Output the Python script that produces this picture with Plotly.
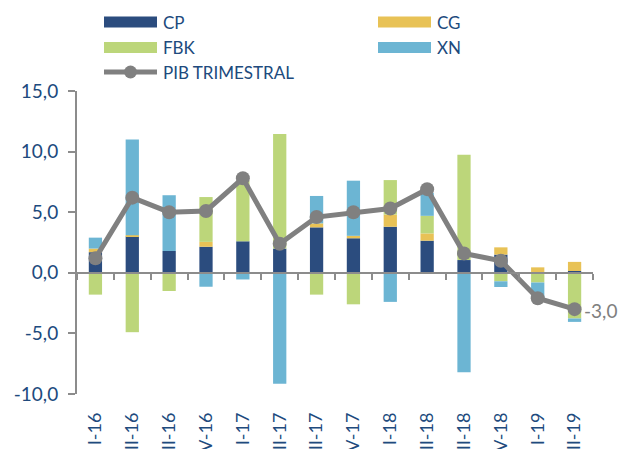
import plotly.graph_objects as go

categories = ["I-16", "II-16", "III-16", "IV-16", "I-17", "II-17", "III-17", "IV-17",
              "I-18", "II-18", "III-18", "IV-18", "I-19", "II-19"]
cp = [1.7, 3.0, 1.8, 2.15, 2.6, 2.0, 3.75, 2.85, 3.8, 2.65, 1.05, 1.5, 0.0, 0.15]
cg = [0.3, 0.1, 0.0, 0.4, 0.0, 0.0, 0.33, 0.2, 1.0, 0.6, 0.0, 0.6, 0.45, 0.75]
fbk = [-1.8, -4.9, -1.5, 3.7, 5.0, 9.45, -1.8, -2.6, 2.85, 1.45, 8.7, -0.7, -0.8, -3.77]
xn = [0.9, 7.9, 4.6, -1.15, -0.55, -9.15, 2.26, 4.55, -2.4, 1.9, -8.2, -0.47, -1.3, -0.28]
pib = [1.2, 6.2, 5.0, 5.1, 7.8, 2.4, 4.6, 5.0, 5.3, 6.9, 1.6, 1.0, -2.1, -3.0]
y_ticks = [-10, -5, 0, 5, 10, 15]
y_ticktext = ["-10,0", "-5,0", "0,0", "5,0", "10,0", "15,0"]

C_CP = "#2b4c7e"
C_CG = "#e8c256"
C_FBK = "#bcd67a"
C_XN = "#6cb5d3"
C_GRAY = "#808080"
C_TXT = "#204a7d"
FONT = "Lato"

W, H = 630, 449
ML, MR, MT, MB = 77, 37, 91, 55
PW, PH = W - ML - MR, H - MT - MB


def px(x):
    return (x - ML) / PW


def py(y):
    return (H - MB - y) / PH


fig = go.Figure()
for name, vals, col in [("CP", cp, C_CP), ("CG", cg, C_CG), ("FBK", fbk, C_FBK), ("XN", xn, C_XN)]:
    fig.add_trace(go.Bar(x=categories, y=vals, name=name, marker=dict(color=col, line=dict(width=0)),
                         showlegend=False))

fig.add_trace(go.Scatter(x=categories, y=pib, name="PIB TRIMESTRAL", mode="lines+markers",
                         line=dict(color=C_GRAY, width=5), marker=dict(color=C_GRAY, size=14),
                         showlegend=False))

# invisible trace to carry the zero-line category axis
fig.add_trace(go.Scatter(x=categories, y=pib, xaxis="x2", mode="markers",
                         marker=dict(opacity=0), hoverinfo="skip", showlegend=False))

fig.add_annotation(x=categories[-1], y=pib[-1], text="-3,0", showarrow=False,
                   xanchor="left", yanchor="middle", xshift=7, yshift=-1,
                   font=dict(family=FONT, size=19, color=C_GRAY))

# manual legend
shapes = []
annots = []
items = [
    ("CP", C_CP, 104, 22),
    ("FBK", C_FBK, 104, 47.5),
    ("CG", C_CG, 378, 22),
    ("XN", C_XN, 378, 47.5),
]
for name, col, x0, yc in items:
    shapes.append(dict(type="rect", xref="paper", yref="paper", x0=px(x0), x1=px(x0 + 53),
                       y0=py(yc + 5.5), y1=py(yc - 5.5), fillcolor=col, line=dict(width=0)))
    annots.append(dict(xref="paper", yref="paper", x=px(x0 + 57), y=py(yc), text=name,
                       showarrow=False, xanchor="left", yanchor="middle",
                       font=dict(family=FONT, size=17, color=C_TXT)))
shapes.append(dict(type="line", xref="paper", yref="paper", x0=px(104), x1=px(157),
                   y0=py(72), y1=py(72), line=dict(color=C_GRAY, width=5)))
shapes.append(dict(type="circle", xref="paper", yref="paper", x0=px(124), x1=px(137),
                   y0=py(78.5), y1=py(65.5), fillcolor=C_GRAY, line=dict(width=0)))
annots.append(dict(xref="paper", yref="paper", x=px(161), y=py(72), text="PIB TRIMESTRAL",
                   showarrow=False, xanchor="left", yanchor="middle",
                   font=dict(family=FONT, size=17, color=C_TXT)))

for a in annots:
    fig.add_annotation(**a)

fig.update_layout(
    width=W, height=H,
    margin=dict(l=ML, r=MR, t=MT, b=MB, autoexpand=False),
    paper_bgcolor="white", plot_bgcolor="white",
    barmode="relative", bargap=0.64,
    shapes=shapes,
    showlegend=False,
    font=dict(family=FONT, color=C_TXT),
    xaxis=dict(type="category", categoryorder="array", categoryarray=categories,
               range=[-0.5, 13.5], showline=False, showgrid=False, zeroline=False,
               ticks="", tickangle=-90, ticklabelstandoff=14,
               tickfont=dict(family=FONT, size=18, color=C_TXT),
               automargin=False),
    xaxis2=dict(type="category", categoryorder="array", categoryarray=categories,
                overlaying="x", anchor="free", position=0.4, range=[-0.5, 13.5],
                showline=True, linecolor="#8c8c8c", linewidth=2, ticks="outside",
                tickson="boundaries", ticklen=6, tickwidth=2, tickcolor="#8c8c8c",
                showticklabels=False, showgrid=False, zeroline=False, automargin=False),
    yaxis=dict(range=[-10, 15], tickvals=y_ticks, ticktext=y_ticktext,
               showline=True, linecolor="#8c8c8c", linewidth=2, ticks="outside",
               ticklen=7, tickwidth=2, tickcolor="#8c8c8c", showgrid=False, zeroline=False,
               ticklabelstandoff=6,
               tickfont=dict(family=FONT, size=19, color=C_TXT), automargin=False),
)

fig.write_html("out.html", config={"displayModeBar": False},
               post_script="document.body.style.margin='0';document.body.style.overflow='hidden';")
